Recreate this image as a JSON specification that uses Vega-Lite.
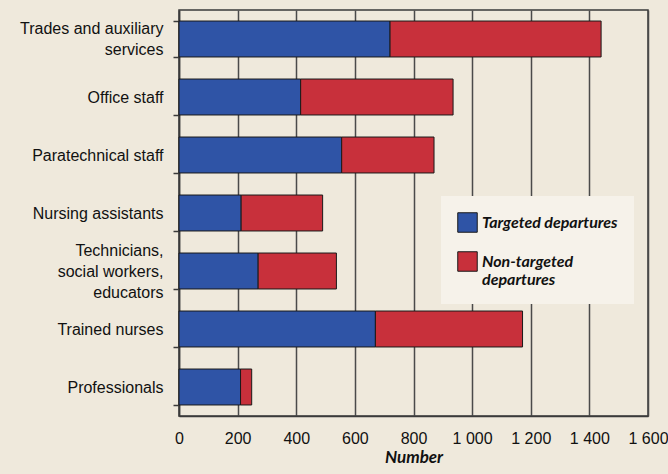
{
  "$schema": "https://vega.github.io/schema/vega-lite/v6.json",
  "width": 469,
  "height": 406,
  "autosize": {"type": "none"},
  "padding": {"left": 179, "top": 10, "right": 20, "bottom": 58},
  "background": "#efe9dc",
  "config": {
    "view": {"stroke": "#3a3a3a", "strokeWidth": 1.5},
    "axis": {"labelColor": "#111", "titleColor": "#111", "domainColor": "#3a3a3a", "tickColor": "#3a3a3a", "domainWidth": 1.5}
  },
  "data": {
    "values": [
      {"category": "Trades and auxiliary services", "type": "Targeted departures", "k": 1, "value": 720},
      {"category": "Trades and auxiliary services", "type": "Non-targeted departures", "k": 2, "value": 720},
      {"category": "Office staff", "type": "Targeted departures", "k": 1, "value": 415},
      {"category": "Office staff", "type": "Non-targeted departures", "k": 2, "value": 520},
      {"category": "Paratechnical staff", "type": "Targeted departures", "k": 1, "value": 555},
      {"category": "Paratechnical staff", "type": "Non-targeted departures", "k": 2, "value": 315},
      {"category": "Nursing assistants", "type": "Targeted departures", "k": 1, "value": 212},
      {"category": "Nursing assistants", "type": "Non-targeted departures", "k": 2, "value": 278},
      {"category": "Technicians, social workers, educators", "type": "Targeted departures", "k": 1, "value": 270},
      {"category": "Technicians, social workers, educators", "type": "Non-targeted departures", "k": 2, "value": 267},
      {"category": "Trained nurses", "type": "Targeted departures", "k": 1, "value": 670},
      {"category": "Trained nurses", "type": "Non-targeted departures", "k": 2, "value": 502},
      {"category": "Professionals", "type": "Targeted departures", "k": 1, "value": 210},
      {"category": "Professionals", "type": "Non-targeted departures", "k": 2, "value": 38}
    ]
  },
  "mark": {"type": "bar", "stroke": "#1a1a1a", "strokeWidth": 1},
  "encoding": {
    "y": {
      "field": "category",
      "type": "nominal",
      "sort": null,
      "scale": {"paddingInner": 0.38, "paddingOuter": 0.19},
      "axis": {
        "title": null,
        "tickBand": "extent",
        "tickSize": 6,
        "tickWidth": 1.5,
        "labelPadding": 10,
        "labelFont": "Liberation Sans",
        "labelFontSize": 16,
        "labelLineHeight": 21,
        "labelOffset": {"condition": [{"test": "datum.value == 'Trades and auxiliary services'", "value": -11}, {"test": "datum.value == 'Technicians, social workers, educators'", "value": -21}], "value": 0},
        "labelExpr": "datum.value == 'Trades and auxiliary services' ? ['Trades and auxiliary', 'services'] : datum.value == 'Technicians, social workers, educators' ? ['Technicians,', 'social workers,', 'educators'] : datum.value"
      }
    },
    "x": {
      "field": "value",
      "type": "quantitative",
      "stack": "zero",
      "scale": {"domain": [0, 1600], "nice": false},
      "axis": {
        "title": "Number",
        "titleFont": "Lato",
        "titleFontStyle": "italic",
        "titleFontWeight": "bold",
        "titleFontSize": 17,
        "titlePadding": 3,
        "values": [0, 200, 400, 600, 800, 1000, 1200, 1400, 1600],
        "labelExpr": "replace(format(datum.value, ','), ',', ' ')",
        "labelOverlap": false,
        "labelFlush": false,
        "labelFont": "Liberation Sans",
        "labelFontSize": 16,
        "labelPadding": 14,
        "tickSize": 0,
        "grid": true,
        "gridColor": "#4a4a4a",
        "gridWidth": 1.5
      }
    },
    "color": {
      "field": "type",
      "type": "nominal",
      "scale": {"domain": ["Targeted departures", "Non-targeted departures"], "range": ["#2f54a6", "#c8303b"]},
      "legend": {
        "title": null,
        "orient": "none",
        "legendX": 262,
        "legendY": 186,
        "padding": 16,
        "fillColor": "#f6f2ea",
        "symbolType": "square",
        "symbolSize": 380,
        "symbolStrokeColor": "#1a1a1a",
        "symbolStrokeWidth": 1,
        "symbolOpacity": 1,
        "rowPadding": 14,
        "labelFont": "Lato",
        "labelFontStyle": "italic",
        "labelFontWeight": "bold",
        "labelFontSize": 16,
        "labelColor": "#111",
        "labelLineHeight": 17,
        "labelLimit": 300,
        "labelExpr": "datum.label == 'Non-targeted departures' ? ['Non-targeted', 'departures'] : datum.label"
      }
    },
    "order": {"field": "k", "type": "quantitative"}
  }
}
